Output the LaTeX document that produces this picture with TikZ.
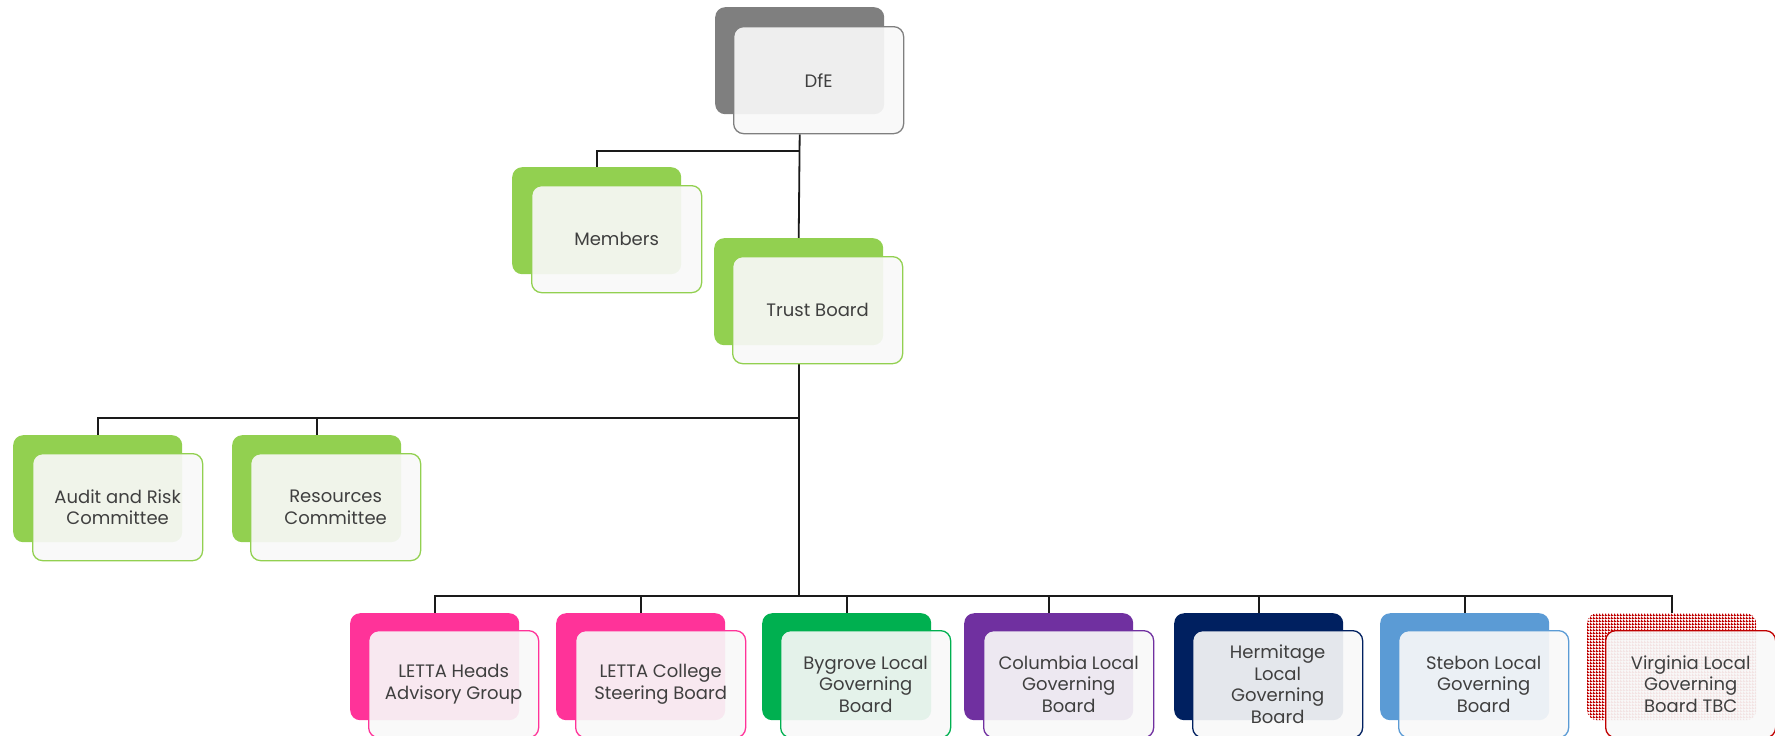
\documentclass[tikz,border=0pt]{standalone}
\usepackage{fontspec}
\setmainfont{Poppins}
\usetikzlibrary{patterns}
\definecolor{cGray}{HTML}{7F7F7F}
\definecolor{cGreen}{HTML}{92D050}
\definecolor{cPink}{HTML}{FF3399}
\definecolor{cBgreen}{HTML}{00B050}
\definecolor{cPurple}{HTML}{7030A0}
\definecolor{cNavy}{HTML}{002060}
\definecolor{cBlue}{HTML}{5B9BD5}
\definecolor{cRed}{HTML}{C00000}
\definecolor{cFront}{HTML}{F8F8F8}
\definecolor{cText}{HTML}{3F3F3F}
\definecolor{cLine}{HTML}{1A1A1A}
\pgfdeclarepatternformonly{redgrid}{\pgfpointorigin}{\pgfqpoint{3pt}{3pt}}{\pgfqpoint{3pt}{3pt}}{%
  \pgfpathrectangle{\pgfqpoint{0pt}{0pt}}{\pgfqpoint{3pt}{1.4pt}}%
  \pgfusepath{fill}%
  \pgfpathrectangle{\pgfqpoint{0pt}{1.4pt}}{\pgfqpoint{1.4pt}{1.6pt}}%
  \pgfusepath{fill}}
\pgfdeclarelayer{bg}
\pgfsetlayers{bg,main}
\tikzset{
  backbox/.style={rounded corners=10pt, minimum width=169pt, minimum height=107pt,
    inner sep=0pt, draw=none, anchor=north west},
  frontbox/.style={rounded corners=10pt, minimum width=170pt, minimum height=107pt,
    inner sep=0pt, line width=1.3pt, fill=cFront, fill opacity=0.92, text opacity=1,
    anchor=north west, align=center, text=cText,
    font=\fontsize{18}{21.5}\selectfont},
  link/.style={line width=1.8pt, draw=cLine}
}
\begin{document}
\begin{tikzpicture}[x=1pt,y=-1pt]
\useasboundingbox (0,0) rectangle (1775,736);
\clip (0,0) rectangle (1775,736);
% top
\node[backbox, fill=cGray] (dfeB) at (715,7) {};
\node[frontbox, draw=cGray] (dfe) at (733,26) {DfE};
\node[backbox, fill=cGreen] (memB) at (512,167) {};
\node[frontbox, draw=cGreen] (mem) at (531,185) {Members};
\node[backbox, fill=cGreen] (trustB) at (714,238) {};
\node[frontbox, draw=cGreen] (trust) at (732,256) {Trust Board};
% committees
\node[backbox, fill=cGreen] (audB) at (13,435) {};
\node[frontbox, draw=cGreen] (aud) at (32,453) {Audit and Risk\\Committee};
\node[backbox, fill=cGreen] (resB) at (232,435) {};
\node[frontbox, draw=cGreen] (res) at (250,453) {Resources\\Committee};
% bottom row
\node[backbox, fill=cPink] (headsB) at (350,613) {};
\node[frontbox, draw=cPink] (heads) at (368,630) {LETTA Heads\\Advisory Group};
\node[backbox, fill=cPink] (collB) at (556,613) {};
\node[frontbox, draw=cPink] (coll) at (575,630) {LETTA College\\Steering Board};
\node[backbox, fill=cBgreen] (bygB) at (762,613) {};
\node[frontbox, draw=cBgreen] (byg) at (780,630) {Bygrove Local\\Governing\\Board};
\node[backbox, fill=cPurple] (colB) at (964,613) {};
\node[frontbox, draw=cPurple] (col) at (983,630) {Columbia Local\\Governing\\Board};
\node[backbox, fill=cNavy] (herB) at (1174,613) {};
\node[frontbox, draw=cNavy] (her) at (1192,630) {Hermitage\\Local\\Governing\\Board};
\node[backbox, fill=cBlue] (steB) at (1380,613) {};
\node[frontbox, draw=cBlue] (ste) at (1398,630) {Stebon Local\\Governing\\Board};
\node[backbox, preaction={fill=white}, pattern=redgrid, pattern color=cRed] (virB) at (1587,613) {};
\node[frontbox, draw=cRed] (vir) at (1605,630) {Virginia Local\\Governing\\Board TBC};
% connectors
\begin{pgfonlayer}{bg}
\draw[link] (dfeB.center |- dfe.south) -- (trustB.north);
\draw[link] (dfeB.center |- 0,151) -| (memB.north);
\draw[link] (trustB.center |- trust.south) -- (trustB.center |- 0,596);
\draw[link] (audB.north) |- (trustB.center |- 0,418);
\draw[link] (resB.north) -- (resB.north |- 0,418);
\draw[link] (headsB.north) |- (virB.north |- 0,596) -- (virB.north);
\foreach \n in {collB,bygB,colB,herB,steB}
  \draw[link] (\n.north) -- (\n.north |- 0,596);
\end{pgfonlayer}
\end{tikzpicture}
\end{document}
